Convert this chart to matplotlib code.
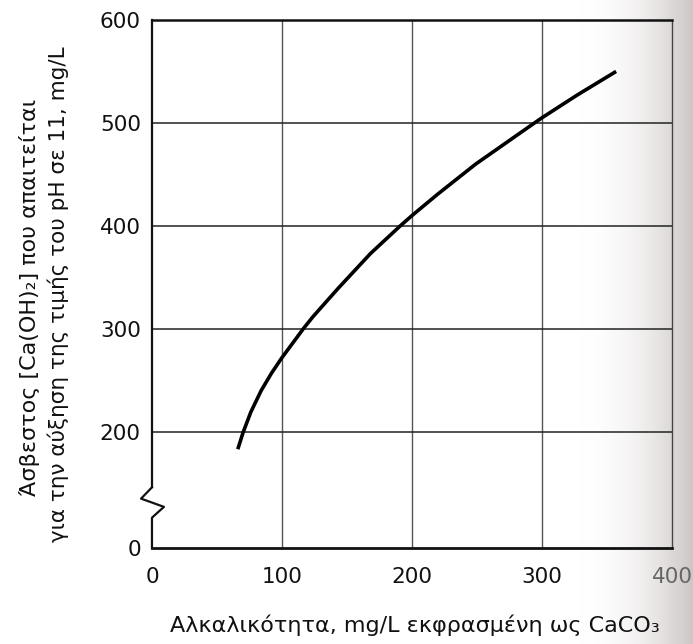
import matplotlib
matplotlib.use("Agg")
import matplotlib.pyplot as plt
from matplotlib.lines import Line2D
import numpy as np

plt.rcParams['font.family'] = ['DejaVu Sans']

# Data
alkalinity = [66, 70, 76, 84, 92, 100, 117, 124, 143, 168, 191, 200, 220, 249, 292, 300, 327, 357]
lime = [183, 199, 219, 240, 257, 272, 301, 312, 339, 373, 400, 410, 431, 460, 498, 505, 527, 550]

x_ticks = [0, 100, 200, 300, 400]
y_ticks = [200, 300, 400, 500, 600]
y_bottom = 87          # position where the broken axis shows "0"
y_bottom_label = "0"

xlabel = "Αλκαλικότητα, mg/L εκφρασμένη ως CaCO₃"
ylabel1 = "Άσβεστος [Ca(OH)₂] που απαιτείται"
ylabel2 = "για την αύξηση της τιμής του pH σε 11, mg/L"

fig = plt.figure(figsize=(6.93, 6.44), dpi=100)

# faint scan shading at the right edge (background)
bg = fig.add_axes([0, 0, 1, 1], zorder=-10)
bg.axis('off')
w = 693
cols = np.arange(w)
t = np.clip((cols - 580) / (w - 580), 0, 1) ** 2.0
r = 1 - 0.20 * t
g = 1 - 0.23 * t
b = 1 - 0.23 * t
img = np.stack([np.tile(r, (10, 1)), np.tile(g, (10, 1)), np.tile(b, (10, 1))], axis=-1)
bg.imshow(img, aspect='auto', extent=[0, 1, 0, 1], interpolation='bilinear')
bg.set_xlim(0, 1)
bg.set_ylim(0, 1)

ax = fig.add_axes([0.2193, 0.149, 0.7504, 0.820])
ax.patch.set_alpha(0)

ax.set_xlim(0, 400)
ax.set_ylim(y_bottom, 600)

ax.set_xticks(x_ticks)
ax.set_yticks([y_bottom] + y_ticks)
ax.set_yticklabels([y_bottom_label] + [str(v) for v in y_ticks])
ax.tick_params(axis='both', length=0, labelsize=15.5, colors='#111111')
ax.tick_params(axis='x', pad=14)
ax.tick_params(axis='y', pad=8)
ax.get_xticklabels()[-1].set_color('#666666')

# grid
for xv in [100, 200, 300]:
    ax.axvline(xv, color='#555555', lw=1.0, zorder=1)
for yv in [200, 300, 400, 500]:
    ax.axhline(yv, color='#222222', lw=1.1, zorder=1)

# spines
for s in ['top', 'right', 'bottom']:
    ax.spines[s].set_color('#111111')
ax.spines['top'].set_linewidth(1.8)
ax.spines['bottom'].set_linewidth(2.0)
ax.spines['right'].set_linewidth(1.0)
ax.spines['right'].set_color('#444444')
ax.spines['left'].set_visible(False)

# left spine with break (zigzag)
tr = ax.get_yaxis_transform()  # x in axes, y in data
ax.add_line(Line2D([0, 0], [600, 146], transform=tr, color='#111111', lw=1.6, clip_on=False))
ax.add_line(Line2D([0, -0.021, 0.023, 0.0, 0.0], [146, 135, 127, 116.5, y_bottom],
                   transform=tr, color='#111111', lw=1.6, clip_on=False))

# curve
ax.plot(alkalinity, lime, color='black', lw=2.6, solid_capstyle='butt',
        solid_joinstyle='round', zorder=3)

fig.text(0.599, 0.0295, xlabel, ha='center', va='center', fontsize=16, color='#111111')
fig.text(0.043, 0.539, ylabel1, rotation=90, ha='center', va='center', fontsize=16, color='#111111')
fig.text(0.084, 0.543, ylabel2, rotation=90, ha='center', va='center', fontsize=15.5, color='#111111')

fig.savefig("out.png", dpi=100)
